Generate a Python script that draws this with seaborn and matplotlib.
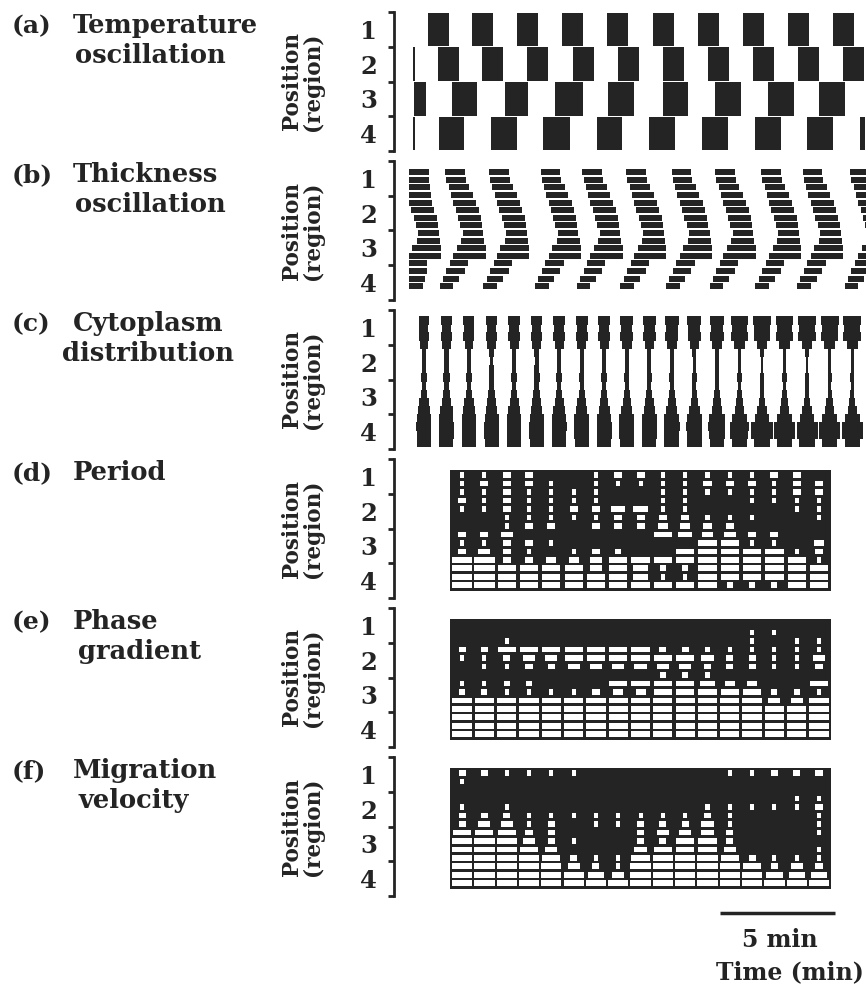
import numpy as np
import pandas as pd
import matplotlib
matplotlib.use("Agg")
import matplotlib.pyplot as plt
import seaborn as sns

# ---------------- text ----------------
panel_letters = ["(a)", "(b)", "(c)", "(d)", "(e)", "(f)"]
panel_titles = [["Temperature", "oscillation"], ["Thickness", "oscillation"],
                ["Cytoplasm", "distribution"], ["Period"], ["Phase", "gradient"],
                ["Migration", "velocity"]]
title_line2_x = [75, 75, 62, 0, 78, 78]
region_labels = ["1", "2", "3", "4"]
ylabel_text = "Position\n(region)"
scale_text = "5 min"
xlabel_text = "Time (min)"

# ---------------- (a) temperature oscillation: onset (min), duration (min) per region ----
temp_r1_start = [1.48, 3.39, 5.35, 7.30, 9.26, 11.26, 13.22, 15.17, 17.13, 19.09]
temp_r1_dur = [0.91] * 10
temp_r2_start = [0.83, 1.91, 3.83, 5.78, 7.78, 9.74, 11.70, 13.65, 15.61, 17.57, 19.52]
temp_r2_dur = [0.09, 0.91, 0.91, 0.91, 0.91, 0.91, 0.91, 0.91, 0.91, 0.91, 0.91]
temp_r3_start = [0.87, 2.52, 4.83, 7.00, 9.30, 11.70, 13.96, 16.26, 18.48]
temp_r3_dur = [0.52, 1.09, 1.00, 1.20, 1.13, 1.09, 1.13, 1.13, 1.13]
temp_r4_start = [0.83, 1.96, 4.22, 6.48, 8.83, 11.09, 13.39, 15.70, 17.96, 20.26]
temp_r4_dur = [0.09, 1.09, 1.13, 1.17, 1.09, 1.13, 1.13, 1.13, 1.13, 0.20]

# ---------------- (b) thickness oscillation (16 sub-positions) ----------------
thick_cycle_start = [0.30, 2.23, 4.13, 6.37, 8.19, 10.09, 12.07, 13.97, 15.96, 17.77, 19.84]
# descending wave from the front (sub-positions 0-11)
thick_front_phase = [0.00, 0.05, 0.15, 0.25, 0.35, 0.45, 0.55, 0.65, 0.75, 0.85, 0.95, 1.05]
thick_front_dur = [0.85, 0.85, 0.90, 0.95, 1.00, 1.00, 1.00, 0.95, 0.90, 0.85, 0.80, 0.70]
# ascending wave from the rear (sub-positions 8-15)
thick_rear_phase = [0.90, 0.70, 0.50, 0.35, 0.20, 0.05, -0.10, -0.25]
thick_rear_dur = [0.60, 0.70, 0.80, 0.80, 0.80, 0.80, 0.70, 0.60]

# ---------------- (c) cytoplasm distribution: width profile (min) per time sample ----------------
cyto_time = [1.30, 2.28, 3.26, 4.24, 5.22, 6.20, 7.18, 8.16, 9.14, 10.12,
             11.10, 12.08, 13.06, 14.04, 15.02, 16.00, 16.98, 17.96, 18.94, 19.92]
cyto_width = [
    [0.50, 0.42, 0.50, 0.40, 0.22, 0.20, 0.22, 0.30, 0.22, 0.32, 0.45, 0.58, 0.66, 0.70, 0.68, 0.66],
    [0.50, 0.42, 0.50, 0.40, 0.22, 0.20, 0.22, 0.30, 0.22, 0.32, 0.45, 0.58, 0.66, 0.70, 0.68, 0.66],
    [0.52, 0.44, 0.52, 0.40, 0.22, 0.20, 0.22, 0.30, 0.22, 0.32, 0.45, 0.58, 0.66, 0.70, 0.68, 0.66],
    [0.52, 0.44, 0.52, 0.40, 0.22, 0.18, 0.22, 0.28, 0.22, 0.30, 0.44, 0.56, 0.66, 0.70, 0.68, 0.66],
    [0.55, 0.45, 0.55, 0.42, 0.22, 0.18, 0.20, 0.28, 0.22, 0.30, 0.42, 0.55, 0.66, 0.70, 0.68, 0.66],
    [0.55, 0.45, 0.55, 0.42, 0.22, 0.18, 0.20, 0.28, 0.22, 0.30, 0.42, 0.55, 0.66, 0.70, 0.68, 0.66],
    [0.55, 0.45, 0.55, 0.42, 0.20, 0.18, 0.20, 0.28, 0.20, 0.30, 0.42, 0.55, 0.66, 0.70, 0.68, 0.66],
    [0.56, 0.46, 0.56, 0.42, 0.20, 0.18, 0.20, 0.26, 0.20, 0.28, 0.42, 0.55, 0.68, 0.70, 0.68, 0.66],
    [0.58, 0.48, 0.58, 0.44, 0.20, 0.18, 0.18, 0.26, 0.20, 0.28, 0.40, 0.54, 0.68, 0.72, 0.70, 0.68],
    [0.60, 0.50, 0.60, 0.45, 0.20, 0.18, 0.18, 0.25, 0.20, 0.28, 0.40, 0.52, 0.70, 0.72, 0.70, 0.68],
    [0.60, 0.50, 0.60, 0.45, 0.20, 0.18, 0.18, 0.25, 0.20, 0.28, 0.40, 0.52, 0.70, 0.72, 0.70, 0.68],
    [0.64, 0.54, 0.62, 0.45, 0.18, 0.16, 0.16, 0.24, 0.18, 0.26, 0.38, 0.52, 0.72, 0.74, 0.72, 0.70],
    [0.66, 0.56, 0.64, 0.45, 0.18, 0.16, 0.16, 0.22, 0.18, 0.25, 0.36, 0.50, 0.72, 0.76, 0.72, 0.70],
    [0.70, 0.60, 0.66, 0.46, 0.18, 0.15, 0.15, 0.22, 0.18, 0.25, 0.35, 0.50, 0.75, 0.80, 0.75, 0.70],
    [0.78, 0.70, 0.76, 0.48, 0.16, 0.14, 0.14, 0.20, 0.16, 0.22, 0.32, 0.46, 0.72, 0.90, 0.85, 0.72],
    [0.82, 0.75, 0.80, 0.50, 0.15, 0.14, 0.14, 0.20, 0.15, 0.20, 0.30, 0.45, 0.70, 1.00, 1.00, 0.72],
    [0.82, 0.75, 0.80, 0.50, 0.15, 0.14, 0.14, 0.20, 0.15, 0.20, 0.30, 0.45, 0.70, 1.00, 1.00, 0.72],
    [0.84, 0.76, 0.82, 0.50, 0.15, 0.13, 0.13, 0.20, 0.15, 0.20, 0.30, 0.44, 0.70, 1.00, 1.00, 0.72],
    [0.84, 0.76, 0.82, 0.50, 0.15, 0.13, 0.13, 0.20, 0.15, 0.20, 0.30, 0.44, 0.70, 1.00, 1.00, 0.72],
    [0.85, 0.78, 0.84, 0.52, 0.15, 0.13, 0.13, 0.20, 0.15, 0.20, 0.30, 0.44, 0.70, 1.00, 1.00, 0.72],
]

# ---------------- (d)-(f) sample times and white-dash widths (fraction of a sample interval) ----
sample_time = [2.96, 3.93, 4.90, 5.87, 6.84, 7.81, 8.78, 9.75, 10.72,
               11.69, 12.66, 13.63, 14.60, 15.57, 16.54, 17.51, 18.48]

# (d) period: one list per sample time (14 sub-positions, top to bottom)
period_cols = [
    [0.2, 0.2, 0.2, 0.4, 0.2, 0, 0, 0.4, 0.2, 0.4, 1, 1, 1, 1],
    [0.2, 0.4, 0.2, 0.2, 0.2, 0, 0, 0.4, 0.2, 0.6, 1, 1, 1, 1],
    [0.4, 0.4, 0.4, 0.4, 0.4, 0.2, 0.2, 0.6, 0.4, 0.4, 0.4, 0.9, 0.9, 0.9],
    [0.4, 0.4, 0.2, 0.2, 0.2, 0.2, 0.4, 0, 0.4, 0.2, 0.4, 0.9, 0.9, 0.9],
    [0, 0.2, 0.2, 0.2, 0.2, 0.2, 0.4, 0, 0.2, 0, 0.5, 0.9, 0.9, 0.9],
    [0, 0, 0.2, 0.2, 0.4, 0.2, 0, 0, 0, 0.2, 0.5, 0.9, 0.9, 0.9],
    [0.2, 0.2, 0.2, 0.2, 0.4, 0.2, 0.4, 0, 0, 0.4, 0.6, 0.6, 0.9, 0.9],
    [0.4, 0.2, 0, 0, 0.7, 0.4, 0.4, 0, 0, 0.3, 0.9, 0.9, 0.9, 0.9],
    [0.4, 0.2, 0, 0, 0.7, 0.4, 0.4, 0, 0, 0, 0.9, 0.7, 0.7, 0.9],
    [0.2, 0.2, 0.2, 0.2, 0.2, 0.4, 0.5, 0.9, 0, 0, 0.9, 0.3, 0.2, 0.9],
    [0.2, 0.2, 0.2, 0.2, 0.2, 0.4, 0.5, 0.7, 0, 0.9, 0.9, 0.3, 0.2, 0.9],
    [0.2, 0.4, 0.2, 0, 0, 0.2, 0.4, 0.5, 0.9, 0.9, 0.9, 0.9, 0.9, 0.9],
    [0.2, 0.4, 0.2, 0, 0, 0.2, 0.4, 0.6, 0.9, 0.9, 0.9, 0.9, 0.9, 0.3],
    [0.2, 0.4, 0.2, 0.2, 0, 0.2, 0, 0.4, 0.2, 0.9, 0.9, 0.9, 0.9, 0.3],
    [0.4, 0.2, 0.2, 0.2, 0, 0, 0, 0.4, 0.2, 0.9, 0.9, 0.9, 0.9, 0.3],
    [0.4, 0.4, 0.4, 0.2, 0.2, 0, 0, 0, 0, 0.2, 0.9, 0.9, 0.9, 0.9],
    [0, 0.4, 0.4, 0.2, 0.2, 0.2, 0, 0, 0.5, 0.4, 0.2, 0.9, 0.9, 0.9],
]

# (e) phase gradient: one list per sub-position (17 sample times)
phase_rows = [
    [0, 0, 0, 0, 0, 0, 0, 0, 0, 0, 0, 0, 0, 0, 0, 0, 0],
    [0, 0, 0, 0, 0, 0, 0, 0, 0, 0, 0, 0, 0, 0.2, 0.2, 0, 0],
    [0, 0, 0.2, 0, 0, 0, 0, 0, 0, 0, 0, 0, 0, 0.2, 0, 0.2, 0.2],
    [0.35, 0.35, 0.9, 0.9, 0.9, 0.9, 0.9, 0.9, 0.9, 0.35, 0.35, 0.2, 0.2, 0.2, 0.2, 0.2, 0.2],
    [0.2, 0.2, 0.35, 0.6, 0.6, 0.9, 0.9, 0.9, 0.9, 0.9, 0.9, 0.6, 0.35, 0.35, 0.2, 0.2, 0.6],
    [0, 0.2, 0.2, 0.35, 0.35, 0.6, 0.6, 0.6, 0.6, 0.6, 0.6, 0.35, 0.35, 0.35, 0.2, 0.2, 0.35],
    [0, 0, 0, 0, 0, 0, 0, 0, 0, 0.3, 0.3, 0.2, 0, 0, 0, 0, 0],
    [0.2, 0.2, 0.3, 0.3, 0, 0, 0, 0.9, 0.9, 0.9, 0.9, 0.7, 0.5, 0.5, 0, 0, 0.9],
    [0.3, 0.3, 0.2, 0.2, 0.2, 0.2, 0.4, 0.5, 0.5, 0.9, 0.9, 0.9, 0.9, 0.9, 0.3, 0.3, 0.2],
    [0.95, 0.95, 0.95, 0.95, 0.95, 0.95, 0.95, 0.95, 0.95, 0.95, 0.95, 0.95, 0.95, 0.95, 0.6, 0.6, 0.95],
    [0.95, 0.95, 0.95, 0.95, 0.95, 0.95, 0.95, 0.95, 0.95, 0.95, 0.95, 0.95, 0.95, 0.95, 0.95, 0.95, 0.95],
    [0.95, 0.95, 0.95, 0.95, 0.95, 0.95, 0.95, 0.95, 0.95, 0.95, 0.95, 0.95, 0.95, 0.95, 0.95, 0.95, 0.95],
    [0.95, 0.95, 0.95, 0.95, 0.95, 0.95, 0.95, 0.95, 0.95, 0.95, 0.95, 0.95, 0.95, 0.95, 0.95, 0.95, 0.95],
    [0.95, 0.95, 0.95, 0.95, 0.95, 0.95, 0.95, 0.95, 0.95, 0.95, 0.95, 0.95, 0.95, 0.95, 0.95, 0.95, 0.95],
]

# (f) migration velocity: one list per sub-position (17 sample times)
migr_rows = [
    [0.35, 0.35, 0.2, 0.2, 0.2, 0.2, 0, 0, 0, 0, 0, 0, 0.2, 0.2, 0.35, 0.35, 0.35],
    [0.2, 0, 0, 0, 0, 0, 0, 0, 0, 0, 0, 0, 0, 0, 0, 0, 0],
    [0, 0, 0, 0, 0, 0, 0, 0, 0, 0, 0, 0, 0, 0, 0, 0, 0],
    [0, 0, 0, 0, 0, 0, 0, 0, 0, 0, 0, 0, 0, 0, 0, 0.2, 0.2],
    [0.2, 0, 0.2, 0, 0, 0, 0, 0, 0, 0, 0, 0.2, 0.2, 0.2, 0.2, 0.2, 0.35],
    [0.35, 0.35, 0.35, 0.2, 0.2, 0.2, 0.2, 0.2, 0.2, 0.2, 0.2, 0.35, 0.2, 0, 0, 0, 0.2],
    [0.35, 0.6, 0.6, 0.2, 0.35, 0, 0.2, 0.2, 0.35, 0.35, 0.35, 0.6, 0.2, 0, 0, 0, 0.2],
    [0.9, 0.9, 0.9, 0.35, 0.35, 0, 0, 0, 0.35, 0.6, 0.6, 0.6, 0.35, 0, 0, 0, 0.2],
    [1, 1, 1, 0.6, 0.35, 0.2, 0, 0, 0.35, 0.35, 0.9, 0.9, 0.35, 0, 0, 0, 0],
    [1, 1, 1, 0.9, 0.6, 0, 0, 0, 0.6, 0.9, 0.9, 0.9, 0.6, 0, 0, 0, 0.2],
    [1, 1, 1, 1, 0.9, 0.35, 0.2, 0.2, 0.9, 1, 1, 1, 0.9, 0.35, 0.2, 0.2, 0.2],
    [1, 1, 1, 1, 1, 0.6, 0.35, 0.2, 1, 1, 1, 1, 1, 0.9, 0.35, 0.6, 0.35],
    [1, 1, 1, 1, 1, 1, 0.8, 0.6, 1, 1, 1, 1, 1, 1, 0.8, 0.8, 0.8],
    [1, 1, 1, 1, 1, 1, 1, 1, 1, 1, 1, 1, 1, 1, 1, 1, 1],
]

# ---------------- style ----------------
sns.set_theme(style="white")
plt.rcParams["font.family"] = ["DejaVu Serif"]
plt.rcParams["font.weight"] = "bold"
INK = "#242424"

FW, FH = 866, 993
fig = plt.figure(figsize=(FW / 100, FH / 100), dpi=100)

AX_LEFT, AX_RIGHT = 394, 866
PX_PER_MIN = 23.0
PANEL_TOP0, PANEL_STEP, PANEL_H = 12, 149, 139


def fx(px):
    return px / FW


def fy(py):
    return 1 - py / FH


axes = []
for i in range(6):
    top = PANEL_TOP0 + PANEL_STEP * i
    ax = fig.add_axes([fx(AX_LEFT), fy(top + PANEL_H), (AX_RIGHT - AX_LEFT) / FW, PANEL_H / FH])
    ax.set_xlim(0, (AX_RIGHT - AX_LEFT) / PX_PER_MIN)
    ax.set_ylim(4, 0)
    ax.set_facecolor("none")
    sns.despine(ax=ax, top=True, right=True, bottom=True, left=False)
    ax.spines["left"].set_linewidth(2.0)
    ax.spines["left"].set_color(INK)
    ax.set_xticks([])
    ax.set_yticks([0, 1, 2, 3, 4])
    ax.set_yticklabels([])
    ax.set_yticks([0.5, 1.5, 2.5, 3.5], minor=True)
    ax.set_yticklabels(region_labels, minor=True, fontsize=17.5, fontweight="bold", color=INK)
    ax.tick_params(axis="y", which="major", left=True, length=4, width=2, color=INK, direction="out")
    ax.tick_params(axis="y", which="minor", left=True, length=0, pad=12)
    ax.set_ylabel(ylabel_text, fontsize=15.5, fontweight="bold", color=INK, linespacing=0.92)
    ax.yaxis.set_label_coords((324 - AX_LEFT) / (AX_RIGHT - AX_LEFT), 0.5)
    fig.text(fx(12), fy(top + 21), panel_letters[i], fontsize=18, fontweight="bold",
             color=INK, va="baseline", ha="left")
    for j, line in enumerate(panel_titles[i]):
        x0 = 73 if j == 0 else title_line2_x[i]
        fig.text(fx(x0), fy(top + 21 + 30 * j), line, fontsize=18.5, fontweight="bold",
                 color=INK, va="baseline", ha="left")
    axes.append(ax)

# ---------------- (a) ----------------
ax = axes[0]
for r, (st, du) in enumerate([(temp_r1_start, temp_r1_dur), (temp_r2_start, temp_r2_dur),
                              (temp_r3_start, temp_r3_dur), (temp_r4_start, temp_r4_dur)]):
    ax.barh(y=[r + 0.5] * len(st), width=du, left=st, height=0.97, color=INK, linewidth=0)

# ---------------- (b) ----------------
ax = axes[1]
B_POS0, B_STEP = 0.32, 0.219
rows_b = []
for c0 in thick_cycle_start:
    for s, (ph, du) in enumerate(zip(thick_front_phase, thick_front_dur)):
        rows_b.append((B_POS0 + B_STEP * s, c0 + ph, du))
    for k, (ph, du) in enumerate(zip(thick_rear_phase, thick_rear_dur)):
        rows_b.append((B_POS0 + B_STEP * (8 + k), c0 + ph, du))
df_b = pd.DataFrame(rows_b, columns=["pos", "start", "dur"])
df_b["start"] = df_b["start"].clip(lower=0.65)
ax.barh(y=df_b["pos"], width=df_b["dur"], left=df_b["start"], height=0.175, color=INK, linewidth=0)

# ---------------- (c) ----------------
ax = axes[2]
C_POS0, C_STEP = 0.30, 0.235
rows_c = []
for t, prof in zip(cyto_time, cyto_width):
    for s, w in enumerate(prof):
        rows_c.append((C_POS0 + C_STEP * s, t, w * 0.92))
df_c = pd.DataFrame(rows_c, columns=["pos", "t", "w"])
ax.barh(y=df_c["pos"], width=df_c["w"], left=df_c["t"] - df_c["w"] / 2, height=0.25,
        color=INK, linewidth=0)

# ---------------- (d)-(f) ----------------
period_grid = np.array(period_cols).T
phase_grid = np.array(phase_rows)
migr_grid = np.array(migr_rows)
ROW0, ROWSTEP = 0.46, 0.244
for ax, grid in zip(axes[3:], [period_grid, phase_grid, migr_grid]):
    nrow = grid.shape[0]
    left = sample_time[0] - 0.53
    right = sample_time[-1] + 0.52
    top = ROW0 - 0.14
    bottom = ROW0 + ROWSTEP * (nrow - 1) + 0.17
    ax.barh(y=(top + bottom) / 2, width=right - left, left=left, height=bottom - top,
            color=INK, linewidth=0)
    recs = []
    for s in range(nrow):
        for k, t in enumerate(sample_time):
            v = grid[s, k]
            if v > 0:
                recs.append((ROW0 + ROWSTEP * s, t, v * 0.88))
    df = pd.DataFrame(recs, columns=["pos", "t", "w"])
    ax.barh(y=df["pos"], width=df["w"], left=df["t"] - df["w"] / 2, height=0.16,
            color="white", linewidth=0)

# ---------------- scale bar and x label ----------------
ax = axes[5]
bar_start = (720 - AX_LEFT) / PX_PER_MIN
ax.plot([bar_start, bar_start + 5], [4.49, 4.49], color=INK, lw=2.5, clip_on=False,
        solid_capstyle="butt")
fig.text(fx(780), fy(940), scale_text, fontsize=17, fontweight="bold", color=INK,
         ha="center", va="center")
fig.text(fx(864), fy(972), xlabel_text, fontsize=17, fontweight="bold", color=INK,
         ha="right", va="center")

fig.savefig("out.png", dpi=100, facecolor="white")
